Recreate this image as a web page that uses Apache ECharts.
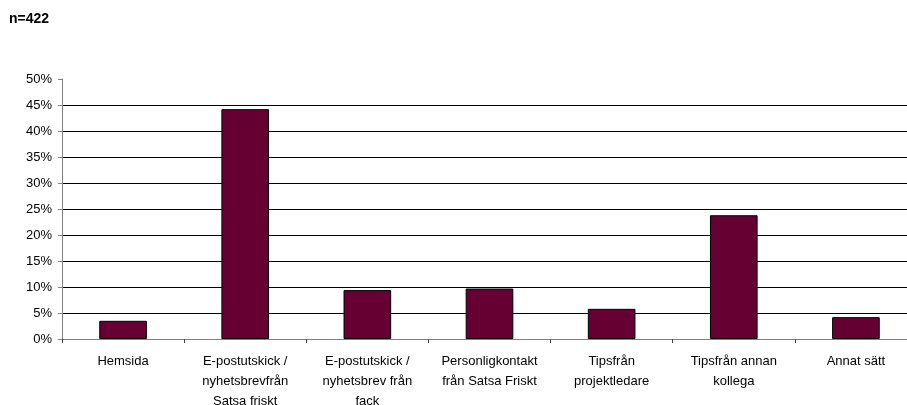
<!DOCTYPE html>
<html>
<head>
<meta charset="utf-8">
<script src="https://cdn.jsdelivr.net/npm/echarts@6/dist/echarts.min.js"></script>
<style>
html,body{margin:0;padding:0;background:#fff;overflow:hidden;}
#chart{width:907px;height:405px;}
</style>
</head>
<body>
<div id="chart"></div>
<script>
const titleText = "n=422";
const categories = [
  "Hemsida",
  "E-postutskick /\nnyhetsbrevfrån\nSatsa friskt",
  "E-postutskick /\nnyhetsbrev från\nfack",
  "Personligkontakt\nfrån Satsa Friskt",
  "Tipsfrån\nprojektledare",
  "Tipsfrån annan\nkollega",
  "Annat sätt"
];
const values = [3.5, 44.2, 9.4, 9.7, 5.8, 23.8, 4.2];
const yMin = 0, yMax = 50, yStep = 5;

const chart = echarts.init(document.getElementById('chart'), null, {renderer: 'canvas', width: 907, height: 405});
const font = '"Liberation Sans", Arial, sans-serif';
chart.setOption({
  animation: false,
  backgroundColor: '#fff',
  title: {
    text: titleText,
    left: 9, top: 12,
    padding: 0,
    textStyle: {fontFamily: font, fontSize: 14, fontWeight: 'bold', color: '#000'}
  },
  grid: {left: 62, width: 855, top: 79, height: 260, containLabel: false, outerBoundsMode: 'none'},
  xAxis: {
    type: 'category',
    data: categories,
    axisLine: {lineStyle: {color: '#808080', width: 1}},
    axisTick: {show: true, length: 4, alignWithLabel: false, lineStyle: {color: '#404040'}},
    axisLabel: {
      interval: 0,
      margin: 12,
      fontFamily: font, fontSize: 13, color: '#000',
      lineHeight: 20, align: 'center', verticalAlign: 'top'
    },
    splitLine: {show: false}
  },
  yAxis: {
    type: 'value',
    min: yMin, max: yMax, interval: yStep,
    axisLine: {show: true, lineStyle: {color: '#808080', width: 1}},
    axisTick: {show: true, length: 4, lineStyle: {color: '#808080'}},
    axisLabel: {
      margin: 10,
      fontFamily: font, fontSize: 13, color: '#000',
      formatter: v => v + '%'
    },
    splitLine: {show: true, showMinLine: false, showMaxLine: false, lineStyle: {color: '#000', width: 1}}
  },
  series: [{
    type: 'bar',
    data: values,
    barCategoryGap: '61%',
    itemStyle: {color: '#660033', borderColor: '#000', borderWidth: 1}
  }]
});
</script>
</body>
</html>
